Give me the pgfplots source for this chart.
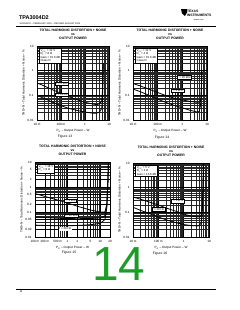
\documentclass[border=0pt]{standalone}
\usepackage{pgfplots}
\pgfplotsset{compat=1.18}
\usepackage{fontspec}
\setmainfont{Liberation Sans}
\newcommand\myff{\fontsize{3.4}{3.9}\selectfont}
\newcommand\myfs{\fontsize{3.1}{3.5}\selectfont}
\newcommand\mybox{\fontsize{2.9}{3.5}\selectfont}
\definecolor{wmgreen}{RGB}{28,155,38}
\tikzset{
  condbox/.style={draw=black, fill=white, font=\mybox, align=left, inner xsep=1.3bp, inner ysep=1bp, line width=0.35pt},
  flabbox/.style={draw=black, fill=white, font=\mybox, inner sep=0.7bp, line width=0.35pt},
}
\pgfplotsset{
  every axis/.append style={
    scale only axis, anchor=south west,
    grid=both,
    major grid style={black, line width=0.45pt},
    minor grid style={black!85, line width=0.28pt},
    axis line style={line width=0.7pt},
    major tick length=0pt, minor tick length=0pt,
    tick label style={font=\myfs},
    ylabel style={font=\myfs, yshift=-4bp},
    xlabel style={font=\myfs, yshift=3bp},
    title style={font=\myff\bfseries, align=center, yshift=-3bp},
  },
}
\begin{document}
\begin{tikzpicture}
\path[use as bounding box] (0bp,0bp) rectangle (240bp,-310bp);
% header
\node[anchor=west, font=\fontsize{5.5}{6}\selectfont\bfseries] at (15.5bp,-18bp) {TPA3004D2};
\node[anchor=west, font=\fontsize{2.3}{2.6}\selectfont] at (16bp,-23.5bp) {SLOS407A -- FEBRUARY 2003 -- REVISED AUGUST 2004};
\draw[line width=0.8pt] (16bp,-26.5bp) -- (216bp,-26.5bp);
\node[anchor=east, font=\fontsize{3.4}{3.5}\selectfont\bfseries, align=left] at (215bp,-13.5bp) {TEXAS\\INSTRUMENTS};
\node[anchor=east, font=\fontsize{1.9}{2}\selectfont] at (207bp,-19.5bp) {www.ti.com};
\fill (181bp,-9bp) -- (187bp,-9bp) -- (187bp,-12.5bp) -- (185bp,-16bp) -- (182bp,-13.5bp) -- cycle;
% footer
\draw[line width=0.8pt] (16bp,-289bp) -- (216bp,-289bp);
\node[anchor=west, font=\fontsize{2.6}{2.8}\selectfont] at (16bp,-292bp) {14};
\node[font=\fontsize{48}{48}\selectfont, text=wmgreen] at (119bp,-264.5bp) {14};

% ---------- Figure 13
\begin{loglogaxis}[at={(37bp,-120bp)}, width=72bp, height=74bp,
  xmin=0.01, xmax=10, ymin=0.01, ymax=10,
  xtick={0.01,0.1,1,10}, xticklabels={10 m,100 m,1,10},
  ytick={0.01,0.1,1,10}, yticklabels={0.01,0.1,1,10},
  minor xtick={0.02,0.03,0.04,0.05,0.06,0.07,0.08,0.09,0.2,0.3,0.4,0.5,0.6,0.7,0.8,0.9,2,3,4,5,6,7,8,9},
  minor ytick={0.02,0.03,0.04,0.05,0.06,0.07,0.08,0.09,0.2,0.3,0.4,0.5,0.6,0.7,0.8,0.9,2,3,4,5,6,7,8,9},
  title={TOTAL HARMONIC DISTORTION + NOISE\\vs\\OUTPUT POWER},
  xlabel={P\textsubscript{O} -- Output Power -- W},
  ylabel={THD+N -- Total Harmonic Distortion + Noise -- \%}]
\addplot[black, line width=0.8pt, no marks] coordinates {(0.01,0.32) (0.02,0.24) (0.05,0.16) (0.1,0.12) (0.2,0.09) (0.5,0.065) (1,0.052) (2,0.045) (3,0.042) (4,0.045) (5,0.06) (5.4,0.2) (5.6,0.9) (5.8,2)};
\addplot[black, line width=0.8pt, no marks] coordinates {(0.01,0.1) (0.02,0.075) (0.05,0.05) (0.1,0.038) (0.2,0.03) (0.5,0.024) (1,0.021) (2,0.019) (3,0.019) (4,0.021) (5,0.03) (5.4,0.1) (5.6,0.5) (5.8,2)};
\node[condbox, anchor=north west] at (rel axis cs:0.03,0.97) {V\textsubscript{CC} = 12 V\\R\textsubscript{L} = 8 Ω\\Gain = 15.6 dB\\Class D};
\node[flabbox] at (axis cs:0.11,0.3) {f = 1 kHz};
\node[flabbox] at (axis cs:0.11,0.105) {f = 20 Hz};
\end{loglogaxis}
\node[font=\myff] at (65bp,-137bp) {Figure 13};

% ---------- Figure 14
\begin{loglogaxis}[at={(133bp,-120bp)}, width=74bp, height=74bp,
  xmin=0.01, xmax=10, ymin=0.01, ymax=10,
  xtick={0.01,0.1,1,10}, xticklabels={10 m,100 m,1,10},
  ytick={0.01,0.1,1,10}, yticklabels={0.01,0.1,1,10},
  minor xtick={0.02,0.03,0.04,0.05,0.06,0.07,0.08,0.09,0.2,0.3,0.4,0.5,0.6,0.7,0.8,0.9,2,3,4,5,6,7,8,9},
  minor ytick={0.02,0.03,0.04,0.05,0.06,0.07,0.08,0.09,0.2,0.3,0.4,0.5,0.6,0.7,0.8,0.9,2,3,4,5,6,7,8,9},
  title={TOTAL HARMONIC DISTORTION + NOISE\\vs\\OUTPUT POWER},
  xlabel={P\textsubscript{O} -- Output Power -- W},
  ylabel={THD+N -- Total Harmonic Distortion + Noise -- \%}]
\addplot[black, line width=0.8pt, no marks] coordinates {(0.01,0.3) (0.02,0.24) (0.05,0.17) (0.1,0.13) (0.2,0.1) (0.5,0.075) (1,0.065) (2,0.057) (4,0.052) (5.2,0.052) (5.8,0.08) (6,0.3) (6.2,1.05)};
\addplot[black, line width=0.8pt, no marks] coordinates {(0.01,0.18) (0.02,0.14) (0.05,0.095) (0.1,0.07) (0.2,0.053) (0.5,0.038) (1,0.031) (2,0.025) (4,0.021) (4.8,0.022) (5.5,0.04) (5.9,0.2) (6.2,1.05)};
\node[condbox, anchor=north west] at (rel axis cs:0.03,0.97) {V\textsubscript{CC} = 12 V\\R\textsubscript{L} = 4 Ω\\Gain = 15.6 dB\\Class D};
\node[flabbox] at (axis cs:1.2,0.55) {f = 20 kHz};
\node[flabbox] at (axis cs:0.63,0.156) {f = 1 kHz};
\end{loglogaxis}
\node[font=\myff] at (162bp,-138bp) {Figure 14};

% ---------- Figure 15
\begin{loglogaxis}[at={(35bp,-237bp)}, width=75bp, height=75bp,
  xmin=0.1, xmax=20, ymin=0.01, ymax=10,
  xtick={0.1,0.2,0.5,1,2,5,10,20}, xticklabels={100 m,200 m,500 m,1,2,5,10,20},
  ytick={0.01,0.02,0.05,0.1,0.2,0.5,1,2,5,10}, yticklabels={0.01,0.02,0.05,0.1,0.2,0.5,1,2,5,10},
  minor xtick={0.3,0.4,0.6,0.7,0.8,0.9,3,4,6,7,8,9},
  minor ytick={0.03,0.04,0.06,0.07,0.08,0.09,0.3,0.4,0.6,0.7,0.8,0.9,3,4,6,7,8,9},
  title={TOTAL HARMONIC DISTORTION + NOISE\\vs\\OUTPUT POWER},
  xlabel={P\textsubscript{O} -- Output Power -- W},
  ylabel={THD+N -- Total Harmonic Distortion + Noise -- \%}]
\addplot[black, line width=0.8pt, no marks] coordinates {(0.1,0.55) (0.2,0.42) (0.5,0.3) (1,0.23) (2,0.17) (5,0.12) (10,0.1) (14,0.1) (16,0.2) (17,1) (18,10)};
\addplot[black, line width=0.8pt, no marks] coordinates {(0.1,0.065) (0.2,0.06) (0.5,0.056) (1,0.055) (2,0.054) (5,0.055) (10,0.058) (14,0.07) (16,0.2) (17,1) (18,10)};
\addplot[black, line width=0.8pt, no marks] coordinates {(0.1,0.03) (0.2,0.029) (0.5,0.028) (1,0.028) (2,0.029) (5,0.031) (10,0.035) (14,0.05) (16,0.15) (17,1) (18,10)};
\node[condbox, anchor=north west] at (rel axis cs:0.03,0.97) {V\textsubscript{CC} = 18 V\\R\textsubscript{L} = 8 Ω};
\node[flabbox] at (axis cs:1.2,0.28) {f = 1 kHz};
\node[flabbox] at (axis cs:1.3,0.072) {f = 20 kHz};
\node[font=\mybox, fill=white, inner sep=0.5bp] at (axis cs:0.85,0.021) {f = 20 Hz};
\end{loglogaxis}
\node[font=\myff] at (69bp,-253bp) {Figure 15};

% ---------- Figure 16
\begin{loglogaxis}[at={(133bp,-237bp)}, width=76bp, height=74bp,
  xmin=0.01, xmax=10, ymin=0.01, ymax=10,
  xtick={0.01,0.1,1,10}, xticklabels={10 m,100 m,1,10},
  ytick={0.01,0.1,1,10}, yticklabels={0.01,0.1,1,10},
  minor xtick={0.02,0.03,0.04,0.05,0.06,0.07,0.08,0.09,0.2,0.3,0.4,0.5,0.6,0.7,0.8,0.9,2,3,4,5,6,7,8,9},
  minor ytick={0.02,0.03,0.04,0.05,0.06,0.07,0.08,0.09,0.2,0.3,0.4,0.5,0.6,0.7,0.8,0.9,2,3,4,5,6,7,8,9},
  title={TOTAL HARMONIC DISTORTION + NOISE\\vs\\OUTPUT POWER},
  xlabel={P\textsubscript{O} -- Output Power -- W},
  ylabel={THD+N -- Total Harmonic Distortion + Noise -- \%}]
\addplot[black, line width=0.8pt, no marks] coordinates {(0.01,0.42) (0.02,0.34) (0.05,0.25) (0.1,0.2) (0.2,0.15) (0.5,0.11) (1,0.085) (2,0.07) (3.7,0.065) (4.8,0.07) (5.4,0.12) (5.8,1) (6,10)};
\addplot[black, line width=0.8pt, no marks] coordinates {(0.01,0.16) (0.02,0.12) (0.05,0.085) (0.1,0.065) (0.2,0.05) (0.5,0.038) (1,0.032) (2,0.029) (3.7,0.028) (4.8,0.035) (5.4,0.08) (5.8,1) (6,10)};
\node[condbox, anchor=north west] at (rel axis cs:0.03,0.97) {V\textsubscript{CC} = 5 V\\R\textsubscript{L} = 4 Ω\\Gain = 15.6 dB};
\node[flabbox] at (axis cs:0.57,0.29) {f = 1 kHz};
\node[flabbox] at (axis cs:0.1,0.136) {f = 20 Hz};
\end{loglogaxis}
\node[font=\myff] at (160bp,-254bp) {Figure 16};
\end{tikzpicture}
\end{document}
